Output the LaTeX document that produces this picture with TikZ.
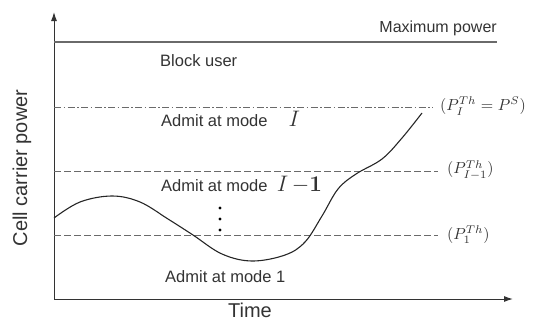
\documentclass[tikz,border=0pt]{standalone}
\usepackage[no-math]{fontspec}
\setmainfont{Liberation Sans}
\usetikzlibrary{arrows.meta}
\definecolor{ink}{HTML}{333333}
\definecolor{lgray}{HTML}{6A6A6A}
\newcommand{\mbig}[1]{\scalebox{1.3}{#1}}
\newcommand{\mlarge}[1]{\scalebox{1.6}{#1}}
\begin{document}
\begin{tikzpicture}[x=1pt,y=-1pt,
  axis/.style={line width=1pt,draw=ink,-{Latex[length=9pt,width=6pt]}},
  maxl/.style={line width=1.1pt,draw=lgray},
  dashl/.style={line width=0.9pt,draw=lgray,dash pattern=on 6.5pt off 3.5pt},
  dashdotl/.style={line width=0.9pt,draw=lgray,dash pattern=on 7pt off 2.5pt on 1.5pt off 2.5pt},
  lab/.style={font=\fontsize{16.5}{18}\selectfont,text=ink,inner sep=0pt},
  big/.style={font=\fontsize{20}{22}\selectfont,text=ink,inner sep=0pt},
  mlab/.style={text=ink,inner sep=0pt,anchor=west}]
\useasboundingbox (0,0) rectangle (535,322);
% axes
\coordinate (O) at (54,299);
\coordinate (ytip) at (54,12);
\coordinate (xtip) at (513,299);
\draw[axis] (O) -- (ytip);
\draw[axis] (O) -- (xtip);
% lines
\coordinate (m1) at (54,42);  \coordinate (m2) at (497,42);
\coordinate (s1) at (54,107); \coordinate (s2) at (433,107);
\coordinate (a1) at (54,171); \coordinate (a2) at (438,171);
\coordinate (b1) at (54,235); \coordinate (b2) at (438,235);
\draw[maxl] (m1) -- (m2);
\draw[dashdotl] (s1) -- (s2);
\draw[dashl] (a1) -- (a2);
\draw[dashl] (b1) -- (b2);
% texts
\node[lab,anchor=base east,font=\fontsize{16}{18}\selectfont] (maxp) at (497,32) {Maximum power};
\node[lab,anchor=base west] (block) at (160,66) {Block user};
\node[lab,anchor=base west] (modeI) at (161,126) {Admit at mode \quad\mbig{$I$}};
\node[lab,anchor=base west] (modeI1) at (161,191) {Admit at mode \ \mbig{$I\,{-}\mathbf{1}$}};
\node[lab,anchor=base west] (mode1) at (165,282) {Admit at mode 1};
\node[mlab] (pS) at (440,106) {\mlarge{$(P_I^{Th}=P^S)$}};
\node[mlab] (pI1) at (447,170) {\mlarge{$(P_{I{-}1}^{Th})$}};
\node[mlab] (p1) at (447,235) {\mlarge{$(P_1^{Th})$}};
\node[big,anchor=base] (time) at (250,317) {Time};
\node[big,rotate=90] (ylab) at (22,168) {Cell carrier power};
% dots
\foreach \yy in {208,219,230} \fill[black] (220,\yy) circle (1.6pt);
% curve
\draw[line width=1.1pt,black!85] plot[smooth,tension=0.6] coordinates {
 (54,218) (80,202) (112,196) (140,202) (168,219) (193,235) (222,254)
 (252,261) (285,255) (305,242) (322,216) (338,189) (356,174)
 (382,159) (402,138) (422,113)};
\end{tikzpicture}
\end{document}
